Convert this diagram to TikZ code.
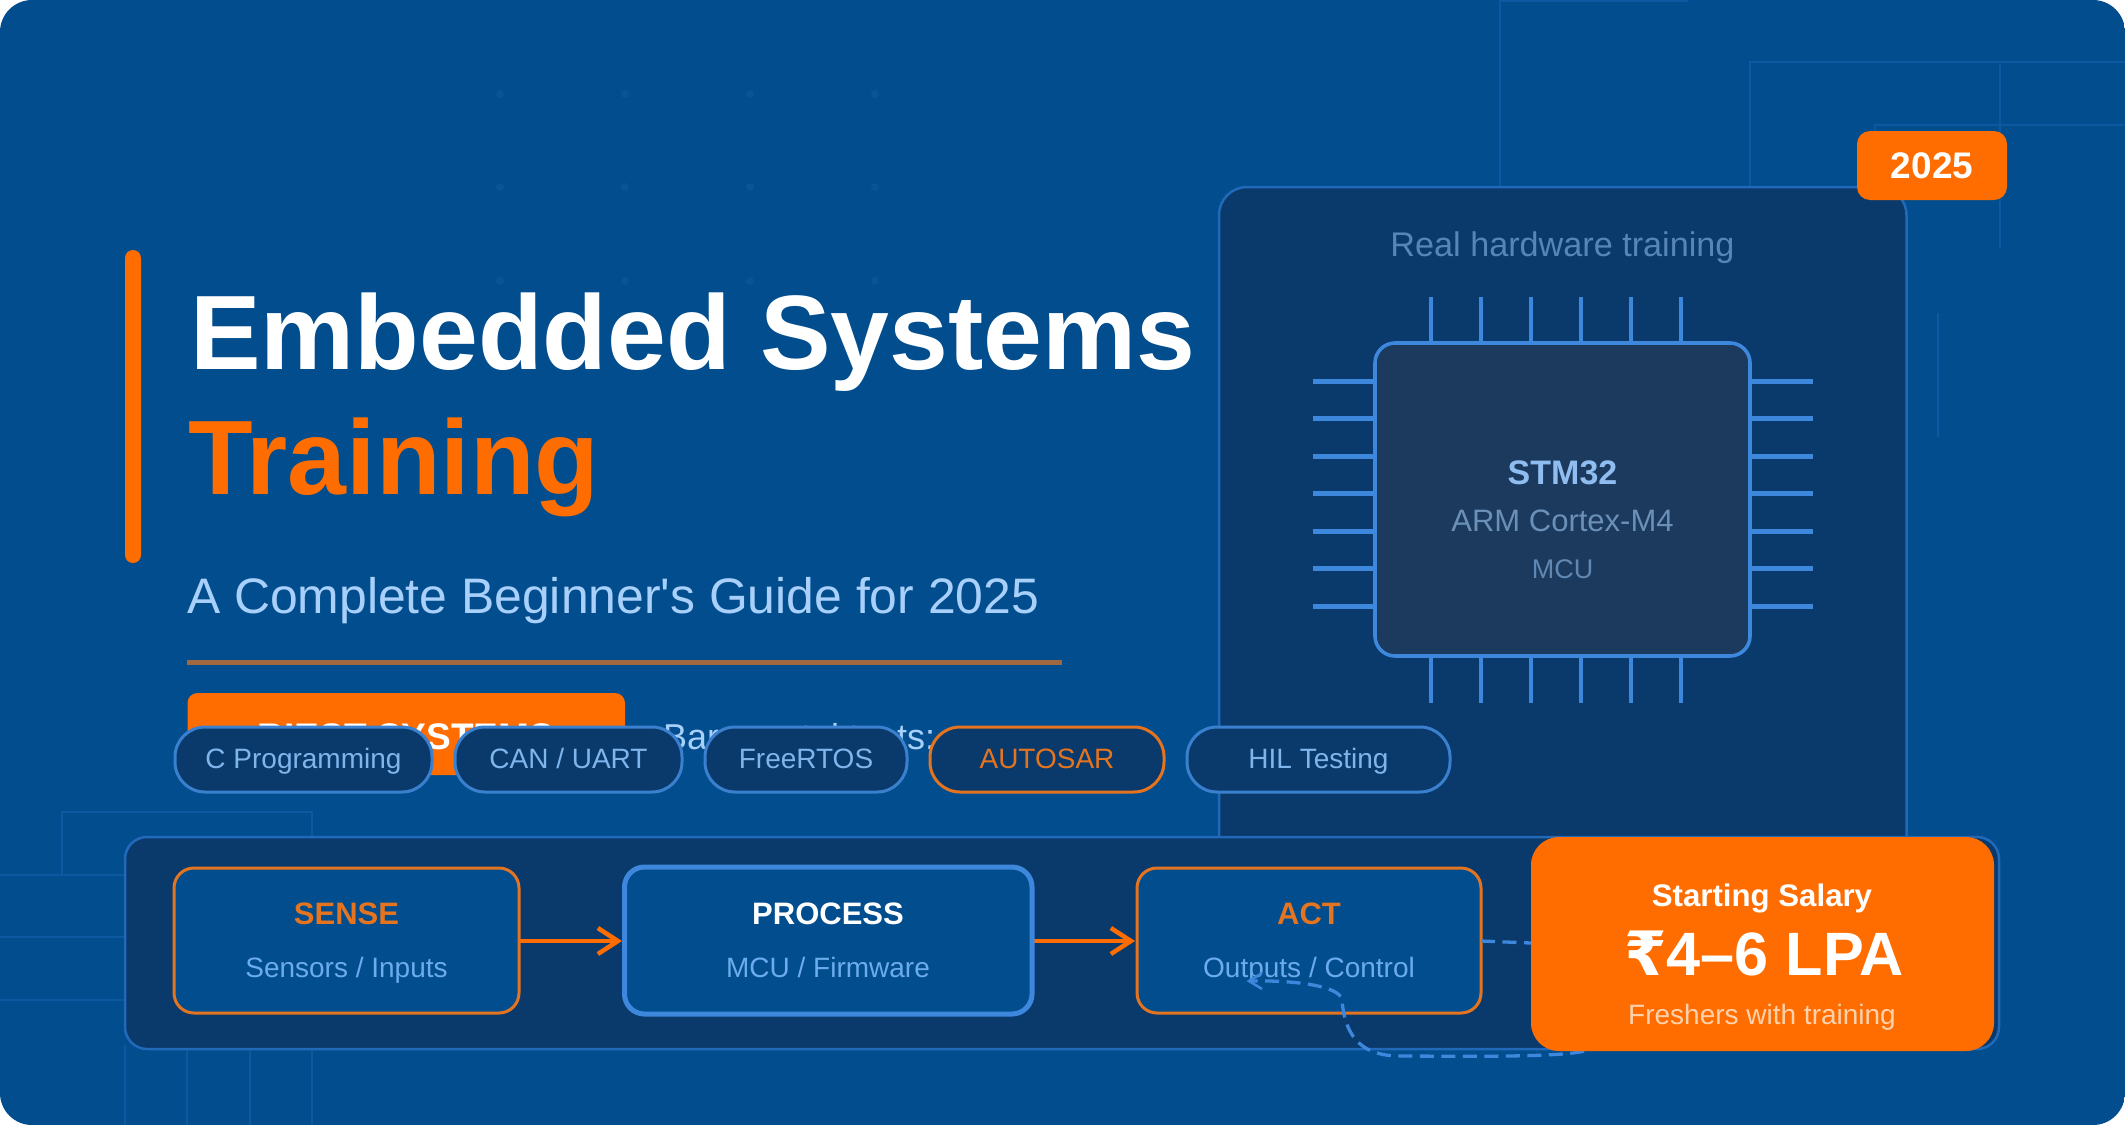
\documentclass[tikz,border=0pt]{standalone}
\usepackage{fontspec}
\setmainfont{Liberation Sans}
\newfontfamily\rupeefont{DejaVu Sans}[BoldFont={DejaVu Sans Bold}]
\usetikzlibrary{arrows.meta}
\definecolor{bgblue}{HTML}{014D8D}
\definecolor{panelfill}{HTML}{0A3A6B}
\definecolor{chipfill}{HTML}{1B3A5D}
\definecolor{edgeblue}{HTML}{2269BA}
\definecolor{pinblue}{HTML}{3D88DC}
\definecolor{pilledge}{HTML}{3A80CE}
\definecolor{trace}{HTML}{0C59A1}
\definecolor{dotblue}{HTML}{095495}
\definecolor{orangemain}{HTML}{FF6D00}
\definecolor{orangeedge}{HTML}{E4741F}
\definecolor{ruleorange}{HTML}{A0683E}
\definecolor{lightblue}{HTML}{A8D0FA}
\definecolor{pilltextblue}{HTML}{80B5EC}
\definecolor{subblue}{HTML}{6CACEC}
\definecolor{stmblue}{HTML}{90BDF0}
\definecolor{dimblue}{HTML}{5786B6}
\definecolor{dimchip}{HTML}{6B90B8}
\definecolor{dimmcu}{HTML}{6088B2}
\definecolor{peach}{HTML}{FFD2AE}
\tikzset{
  x=0.5pt,y=-0.5pt,
  label/.style={inner sep=0pt,outer sep=0pt,anchor=base},
  labelw/.style={inner sep=0pt,outer sep=0pt,anchor=base west},
  tracelines/.style={draw=trace,line width=1pt},
  pin/.style={draw=pinblue,line width=2.25pt},
  hpin/.style={draw=pinblue,line width=2.5pt},
  pillbox/.style={draw=pilledge,line width=1.5pt,fill=panelfill,rounded corners=15pt},
  flowbox/.style={fill=bgblue,rounded corners=10pt},
  flowarrow/.style={draw=orangemain,line width=2.25pt,-{Straight Barb[length=10pt,width=13pt,line width=2.25pt]}},
  dashlink/.style={draw=pinblue,line width=1.65pt,dash pattern=on 7pt off 3.75pt},
}
\newcommand{\titlefont}{\fontsize{52.9pt}{60pt}\selectfont\bfseries}
\begin{document}
\begin{tikzpicture}
\useasboundingbox (0,0) rectangle (2125,1125);
\fill[white] (0,0) rectangle (2125,1125);
\begin{scope}
\clip[rounded corners=16pt] (0,0) rectangle (2125,1125);
\fill[bgblue] (0,0) rectangle (2125,1125);
% faint dots
\foreach \dx in {500,625,750,875}\foreach \dy in {94,187,281}
  \fill[dotblue] (\dx,\dy) circle (2pt);
% faint traces
\draw[tracelines] (1500,190) -- (1500,1) -- (1688,1);
\draw[tracelines] (1750,190) -- (1750,62) -- (2125,62);
\draw[tracelines] (2000,62) -- (2000,249);
\draw[tracelines] (1875,140) -- (1875,125) -- (2125,125);
\draw[tracelines] (1938,313) -- (1938,437);
\draw[tracelines] (62,875) -- (62,812) -- (312,812) -- (312,840);
\draw[tracelines] (0,875) -- (125,875);
\draw[tracelines] (0,937) -- (125,937);
\draw[tracelines] (0,1000) -- (125,1000);
\foreach \tx in {125,187,250,312} \draw[tracelines] (\tx,1045) -- (\tx,1125);
\end{scope}
% accent bar
\fill[orangemain,rounded corners=4pt] (125,250) rectangle (141,563);
% titles
\node[labelw,text=white] (title) at (190,369) {\titlefont Embedded Systems};
\node[labelw,text=orangemain] (titleb) at (188,494) {\titlefont Training};
\node[labelw,text=lightblue] (subtitle) at (187,613) {\fontsize{24.93pt}{30pt}\selectfont A Complete Beginner\textquotesingle s Guide for 2025};
\fill[ruleorange] (187,659.5) rectangle (1062,664.5);
% orange tag and its neighbour text
\fill[orangemain,rounded corners=5pt] (187.5,693) rectangle (625,775);
\node[label,text=white] (tag) at (406,749) {\fontsize{18.5pt}{22pt}\selectfont\bfseries RIEST SYSTEMS};
\node[labelw,text=lightblue] (bare) at (663,749) {\fontsize{18pt}{22pt}\selectfont Bare-metal tests:};
% right panel
\draw[draw=edgeblue,line width=1.25pt,fill=panelfill,rounded corners=14pt] (1219,860) -- (1219,187) -- (1906.5,187) -- (1906.5,860);
\node[label,text=dimblue] (realhw) at (1562.5,256) {\fontsize{17.1pt}{20pt}\selectfont Real hardware training};
% chip pins
\foreach \px in {1431,1481,1531,1581,1631,1681} {
  \draw[pin] (\px,297) -- (\px,345);
  \draw[pin] (\px,654) -- (\px,703);
}
\foreach \py in {381,418.5,456,493.5,531,568.5,606} {
  \draw[hpin] (1312.5,\py) -- (1377,\py);
  \draw[hpin] (1748,\py) -- (1812.5,\py);
}
% chip
\draw[draw=pinblue,line width=1.8pt,fill=chipfill,rounded corners=10pt] (1375,343) rectangle (1750,656);
\node[label,text=stmblue] (stm) at (1562.5,484) {\fontsize{17pt}{20pt}\selectfont\bfseries STM32};
\node[label,text=dimchip] (arm) at (1562.5,531) {\fontsize{15.5pt}{18pt}\selectfont ARM Cortex-M4};
\node[label,text=dimmcu] (mcu) at (1562.5,578) {\fontsize{13.5pt}{16pt}\selectfont MCU};
% badge
\fill[orangemain,rounded corners=6.5pt] (1857,131) rectangle (2007,200);
\node[label,text=white] (year) at (1932,178) {\fontsize{18.5pt}{22pt}\selectfont\bfseries 2025};
% pills
\tikzset{pilltext/.style={label,font=\fontsize{14pt}{18pt}\selectfont,text=pilltextblue}}
\draw[pillbox] (175,727) rectangle (432,792);
\node[pilltext] (p1) at (303.5,768) {C Programming};
\draw[pillbox] (455,727) rectangle (682,792);
\node[pilltext] (p2) at (568.5,768) {CAN / UART};
\draw[pillbox] (705,727) rectangle (907,792);
\node[pilltext] (p3) at (806,768) {FreeRTOS};
\draw[pillbox,draw=orangeedge] (930,727) rectangle (1164,792);
\node[pilltext,text=orangeedge] (p4) at (1047,768) {AUTOSAR};
\draw[pillbox] (1187,727) rectangle (1450,792);
\node[pilltext] (p5) at (1318.5,768) {HIL Testing};
% bottom panel
\draw[draw=edgeblue,line width=1.25pt,fill=panelfill,rounded corners=11pt] (125,837) rectangle (1999,1049);
% flow boxes
\coordinate (sr) at (519,941);
\coordinate (pl) at (622,941);
\coordinate (pr) at (1032,941);
\coordinate (al) at (1135,941);
\coordinate (ar) at (1481,941);
\coordinate (sl) at (1531,943);
\draw[flowarrow] (sr) -- (pl);
\draw[flowarrow] (pr) -- (al);
\draw[flowbox,draw=orangeedge,line width=1.5pt] (174,868) rectangle (519,1013);
\draw[flowbox,draw=pinblue,line width=2.5pt] (624.5,867) rectangle (1032,1014);
\draw[flowbox,draw=orangeedge,line width=1.5pt] (1137,868) rectangle (1481,1013);
\tikzset{flowhead/.style={label,font=\fontsize{15.5pt}{18pt}\selectfont\bfseries},
         flowsub/.style={label,font=\fontsize{14pt}{16pt}\selectfont,text=subblue}}
\node[flowhead,text=orangeedge] (sense) at (346.5,924) {SENSE};
\node[flowsub] (sensesub) at (346.5,977) {Sensors / Inputs};
\node[flowhead,text=white] (process) at (828,924) {PROCESS};
\node[flowsub] (processsub) at (828,977) {MCU / Firmware};
\node[flowhead,text=orangeedge] (act) at (1309,924) {ACT};
\node[flowsub] (actsub) at (1309,977) {Outputs / Control};
% dashed links
\draw[dashlink] (ar) -- (sl);
\coordinate (dstart) at (1584,1051);
\coordinate (dend) at (1249,981);
\draw[dashlink] (dstart) .. controls (1560,1058) and (1440,1056) .. (1400,1056)
  .. controls (1365,1056) and (1345,1040) .. (1342,1000)
  .. controls (1340,985) and (1290,980) .. (dend);
\draw[draw=pinblue,line width=1.25pt] (1262,989) -- (dend) -- (1262,973);
% salary card
\fill[orangemain,rounded corners=14pt] (1531,837) rectangle (1994,1051);
\node[label,text=white] (sal1) at (1762,906) {\fontsize{15.6pt}{20pt}\selectfont\bfseries Starting Salary};
\node[label,text=white] (sal2) at (1764,975) {\fontsize{30.6pt}{36pt}\selectfont\bfseries{\rupeefont ₹}4–6 LPA};
\node[label,text=peach] (sal3) at (1762,1024) {\fontsize{14pt}{16pt}\selectfont Freshers with training};
\end{tikzpicture}
\end{document}
